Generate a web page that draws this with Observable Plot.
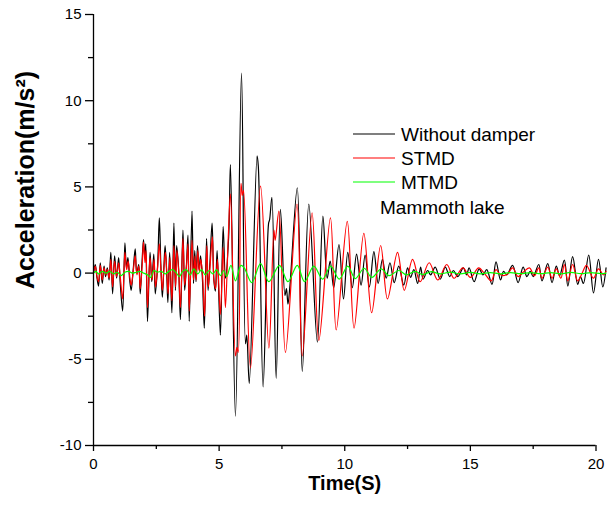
<!DOCTYPE html>
<html><head><meta charset="utf-8">
<script src="https://cdn.jsdelivr.net/npm/d3@7"></script>
<script src="https://cdn.jsdelivr.net/npm/@observablehq/plot@0.6"></script>
<style>
body{margin:0;background:#fff;}
#chart{width:612px;height:513px;}
</style></head><body><div id="chart"></div>
<script>
const xTicks = [0, 5, 10, 15, 20];
const xMinor = [2.5, 7.5, 12.5, 17.5];
const yTicks = [-10, -5, 0, 5, 10, 15];
const yMinor = [-7.5, -2.5, 2.5, 7.5, 12.5];
const xTitle = "Time(S)";
const yTitle = "Acceleration(m/s²)";
const seriesNames = ["Without damper", "STMD", "MTMD"];
const seriesColors = ["#000000", "#ff0000", "#00ff00"];
const noteText = "Mammoth lake";

const withoutDamper = [[0,0],[0.07,0.5],[0.14,-0.3],[0.2,-0.75],[0.27,0.6],[0.35,-0.6],[0.42,0.4],[0.48,-0.2],[0.55,0.3],[0.62,-0.4],[0.69,1.2],[0.76,-1.2],[0.84,1.0],[0.92,-0.3],[1.0,0.9],[1.06,-0.5],[1.16,-2.2],[1.25,1.75],[1.31,0.3],[1.37,0.9],[1.44,-0.4],[1.5,-1.0],[1.58,0.2],[1.66,1.4],[1.72,0.0],[1.8,0.5],[1.86,-1.2],[1.93,0.6],[1.99,1.95],[2.04,0.9],[2.08,1.7],[2.15,-2.8],[2.25,1.2],[2.32,-0.5],[2.4,1.1],[2.46,-1.2],[2.55,0.4],[2.62,3.2],[2.68,0.5],[2.74,-1.4],[2.8,0.3],[2.85,1.6],[2.91,0.1],[2.96,-1.7],[3.03,1.2],[3.12,-2.3],[3.2,2.9],[3.26,-1.0],[3.31,1.6],[3.39,0.2],[3.46,-2.7],[3.56,2.5],[3.63,-1.0],[3.7,0.5],[3.76,2.2],[3.81,-2.8],[3.92,3.6],[3.98,-0.6],[4.03,1.3],[4.08,-0.5],[4.14,1.6],[4.2,0.2],[4.26,1.0],[4.33,-0.2],[4.41,-3.2],[4.5,2.0],[4.56,-1.0],[4.63,0.5],[4.72,2.9],[4.79,-0.4],[4.85,-1.05],[4.92,1.3],[5.05,-3.6],[5.16,2.7],[5.25,-0.3],[5.38,2.1],[5.45,6.3],[5.65,-8.3],[5.89,11.6],[6.05,-4.1],[6.1,-3.6],[6.2,-6.4],[6.51,6.8],[6.56,6.2],[6.75,-6.6],[6.97,2.9],[7.01,3.1],[7.1,4.4],[7.27,-6.1],[7.44,3.7],[7.62,-1.3],[7.68,-0.9],[7.74,-1.8],[7.82,-0.7],[8.11,4.95],[8.31,-5.7],[8.57,4.0],[8.91,-4.0],[9.13,3.3],[9.3,-0.3],[9.42,0.7],[9.56,-0.85],[9.77,1.66],[9.95,-1.5],[10.12,1.2],[10.3,-0.85],[10.47,1.1],[10.65,-0.7],[10.81,1.05],[10.98,-0.8],[11.16,1.25],[11.33,-0.6],[11.5,0.8],[11.65,-0.3],[11.8,0.6],[11.97,-0.55],[12.15,0.4],[12.35,-0.7],[12.5,0.3],[12.62,-0.25],[12.75,0.2],[12.9,-0.6],[13.02,0.35],[13.12,-0.35],[13.3,0.15],[13.42,-0.1],[13.6,0.35],[13.8,-0.35],[14.0,0.35],[14.18,-0.2],[14.32,0.15],[14.5,-0.2],[14.72,0.3],[14.85,-0.1],[14.95,0.3],[15.15,-0.5],[15.35,0.25],[15.5,-0.1],[15.65,0.2],[15.86,-0.65],[16.02,0.65],[16.2,-0.4],[16.32,0.1],[16.45,-0.1],[16.68,0.45],[16.9,-0.55],[17.1,0.35],[17.25,-0.2],[17.38,0.1],[17.5,-0.2],[17.72,0.5],[17.85,-0.45],[18.08,0.55],[18.25,-0.55],[18.42,0.4],[18.55,-0.15],[18.74,0.75],[18.88,-0.75],[19.07,0.95],[19.27,-0.65],[19.38,-0.2],[19.5,-0.6],[19.71,1.05],[19.9,-1.15],[20.1,0.8],[20.27,-0.8],[20.4,0.3]];

const stmd = [[0,0],[0.07,0.4],[0.14,-0.2],[0.2,-0.5],[0.27,0.45],[0.35,-0.4],[0.42,0.3],[0.49,-0.1],[0.55,0.2],[0.62,-0.3],[0.69,0.8],[0.76,-0.8],[0.84,0.7],[0.92,-0.2],[1.0,0.6],[1.07,-0.3],[1.16,-1.5],[1.25,1.2],[1.32,0.2],[1.38,0.7],[1.45,-0.3],[1.5,-0.7],[1.58,0.1],[1.66,1.0],[1.73,-0.1],[1.8,0.4],[1.86,-0.9],[1.94,0.5],[1.99,1.8],[2.05,0.6],[2.09,1.3],[2.15,-2.0],[2.25,0.9],[2.33,-0.4],[2.41,0.8],[2.47,-0.8],[2.55,0.3],[2.62,1.7],[2.68,0.3],[2.74,-1.0],[2.8,0.2],[2.86,1.2],[2.92,0.0],[2.97,-1.2],[3.04,0.9],[3.12,-1.6],[3.2,1.6],[3.27,-0.8],[3.32,1.3],[3.39,0.1],[3.46,-2.0],[3.56,2.0],[3.63,-0.7],[3.7,0.4],[3.76,1.7],[3.81,-2.2],[3.92,1.9],[3.98,-0.4],[4.04,1.0],[4.09,-0.4],[4.15,1.3],[4.21,0.1],[4.27,0.8],[4.34,-0.1],[4.42,-2.5],[4.51,1.6],[4.57,-0.8],[4.64,0.4],[4.73,2.1],[4.8,-0.5],[4.86,-0.9],[4.93,0.8],[5.05,-2.4],[5.16,1.5],[5.25,-2.0],[5.36,1.9],[5.45,4.6],[5.65,-4.8],[5.71,-4.3],[5.76,-4.6],[5.87,5.2],[5.92,4.5],[5.97,4.8],[6.25,-5.5],[6.65,5.05],[6.98,-4.35],[7.18,2.5],[7.23,1.9],[7.38,3.6],[7.64,-4.6],[8.1,4.0],[8.31,-4.8],[8.7,3.5],[8.97,-3.9],[9.43,3.2],[9.66,-3.3],[10.1,3.0],[10.37,-3.2],[10.76,2.3],[11.07,-2.3],[11.43,1.6],[11.7,-1.5],[12.1,1.2],[12.37,-1.0],[12.7,0.8],[13.0,-0.5],[13.36,0.6],[13.7,-0.4],[14.06,0.5],[14.35,-0.3],[14.7,0.3],[15.0,-0.25],[15.33,0.3],[15.55,0.0],[15.83,-0.45],[16.02,0.2],[16.2,-0.1],[16.45,-0.1],[16.68,0.3],[16.9,-0.2],[17.1,0.05],[17.35,0.3],[17.55,-0.15],[17.72,0.3],[17.85,-0.3],[18.08,0.35],[18.25,-0.3],[18.42,0.25],[18.6,-0.3],[18.74,0.5],[18.88,-0.45],[19.07,0.5],[19.27,-0.45],[19.45,0.0],[19.62,0.45],[19.9,-0.3],[20.1,0.25],[20.3,-0.1],[20.4,0.1]];

const mtmd = [[0,0],[0.1,0.1],[0.2,-0.05],[0.35,0.1],[0.5,0.0],[0.65,0.1],[0.8,-0.05],[0.95,0.05],[1.1,-0.15],[1.25,0.05],[1.4,0.1],[1.55,0.0],[1.7,0.05],[1.85,0.1],[2.0,0.0],[2.15,-0.1],[2.28,-0.25],[2.4,0.15],[2.55,0.05],[2.7,0.1],[2.85,-0.05],[3.0,0.1],[3.15,0.2],[3.3,0.0],[3.42,-0.2],[3.55,0.1],[3.7,0.2],[3.85,-0.1],[4.0,0.25],[4.15,-0.05],[4.3,0.2],[4.45,-0.1],[4.6,0.15],[4.75,-0.05],[4.9,0.2],[5.05,-0.15],[5.18,0.15],[5.3,-0.2],[5.47,0.45],[5.65,-0.45],[5.87,0.45],[6.0,0.3],[6.3,-0.55],[6.65,0.55],[6.98,-0.5],[7.4,0.45],[7.74,-0.5],[8.11,0.45],[8.4,-0.5],[8.77,0.4],[9.12,-0.35],[9.44,0.4],[9.78,-0.35],[10.12,0.4],[10.42,-0.32],[10.77,0.28],[11.08,-0.25],[11.45,0.25],[11.76,-0.15],[12.15,0.15],[12.46,-0.1],[12.8,0.1],[13.1,-0.08],[13.45,0.08],[13.8,-0.05],[14.2,0.06],[14.6,-0.05],[15.0,0.04],[15.4,-0.04],[15.8,0.03],[16.2,-0.04],[16.6,0.03],[17.0,-0.03],[17.4,0.03],[17.8,-0.03],[18.2,0.03],[18.6,-0.04],[19.0,0.04],[19.4,-0.03],[19.8,0.03],[20.2,-0.03],[20.4,0.0]];

const seriesData = [withoutDamper, stmd, mtmd];
const font = "'Liberation Sans', Arial, sans-serif";
const fmt = d => String(d);

const lineMarks = seriesData.map((data, i) =>
  Plot.line(data, {x: d => d[0], y: d => d[1], stroke: seriesColors[i], strokeWidth: 1.2, curve: "catmull-rom"}));

const plot = Plot.plot({
  width: 612, height: 513,
  marginLeft: 93, marginRight: 16.5, marginTop: 14, marginBottom: 68,
  x: {domain: [0, 20]},
  y: {domain: [-10, 15]},
  style: {fontFamily: font, fontSize: "15px", background: "white", color: "black", overflow: "visible"},
  marks: [
    ...lineMarks,
    Plot.ruleX([0], {y1: yTicks[0], y2: yTicks[yTicks.length - 1], stroke: "black", strokeWidth: 1.3}),
    Plot.ruleY([yTicks[0]], {x1: xTicks[0], x2: xTicks[xTicks.length - 1], stroke: "black", strokeWidth: 1.3}),
    Plot.axisX(xTicks, {tickSize: 6, tickPadding: 7, label: null, fontSize: 15, strokeWidth: 1.3, tickFormat: fmt}),
    Plot.axisX(xMinor, {tickSize: 4, text: null, label: null, strokeWidth: 1.3}),
    Plot.axisY(yTicks, {tickSize: 8, tickPadding: 4, label: null, fontSize: 15, strokeWidth: 1.3, tickFormat: fmt}),
    Plot.axisY(yMinor, {tickSize: 5, text: null, label: null, strokeWidth: 1.3}),
    Plot.text([xTitle], {frameAnchor: "bottom", dy: 44, fontWeight: "bold", fontSize: 20})
  ]
});
document.getElementById("chart").appendChild(plot);

const svg = d3.select(plot);
// y-axis title
svg.append("text")
  .attr("transform", "translate(34,180) rotate(-90)")
  .attr("text-anchor", "middle")
  .attr("font-family", font).attr("font-size", 25).attr("font-weight", "bold")
  .attr("fill", "black")
  .text(yTitle);

// legend
const lg = svg.append("g").attr("font-family", font).attr("font-size", 19).attr("text-anchor", "start");
seriesNames.forEach((name, i) => {
  const y = 134 + i * 24;
  lg.append("line").attr("x1", 353).attr("x2", 395).attr("y1", y).attr("y2", y)
    .attr("stroke", seriesColors[i]).attr("stroke-width", 1.2);
  lg.append("text").attr("x", 401).attr("y", y).attr("dy", "0.35em").attr("fill", "black").text(name);
});
lg.append("text").attr("x", 380).attr("y", 207).attr("dy", "0.35em").attr("fill", "black").text(noteText);
</script></body></html>
